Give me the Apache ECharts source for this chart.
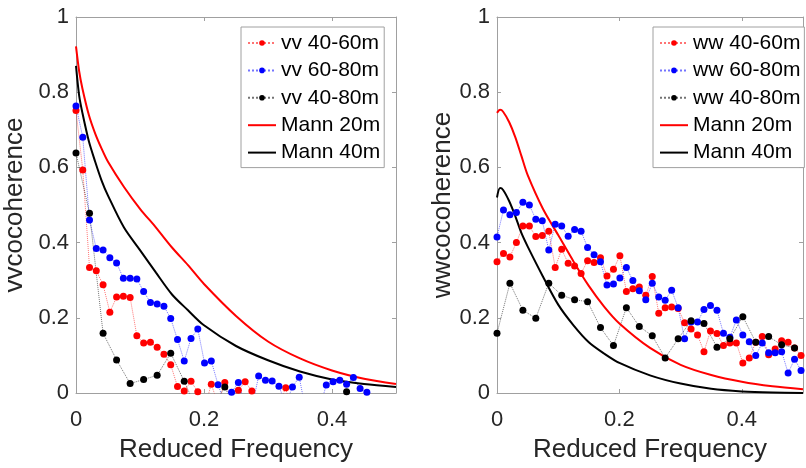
<!DOCTYPE html>
<html><head><meta charset="utf-8">
<script src="https://cdn.jsdelivr.net/npm/echarts@6/dist/echarts.min.js"></script>
<style>html,body{margin:0;padding:0;background:#fff}#c{width:806px;height:468px}</style>
</head><body><div id="c"></div>
<script>
// Reduced frequency of the measured points
const freq = [0,0.0106,0.0211,0.0317,0.0423,0.0529,0.0634,0.0740,0.0846,0.0951,0.1057,0.1163,0.1268,0.1374,0.1480,0.1586,0.1691,0.1797,0.1903,0.2008,0.2114,0.2220,0.2325,0.2431,0.2537,0.2643,0.2748,0.2854,0.2960,0.3065,0.3171,0.3277,0.3382,0.3488,0.3594,0.3700,0.3805,0.3911,0.4017,0.4122,0.4228,0.4334,0.4439,0.4545,0.4651,0.4757,0.4862,0.4968];

// vv co-coherence (left panel)
const vv4060 = [0.751,0.593,0.334,0.325,0.288,0.215,0.255,0.257,0.254,0.152,0.133,0.135,0.122,0.103,0.075,0.017,0.005,0.031,0.003,-0.04,0.023,-0.03,0.028,-0.02,0.007,0.030,0.005,-0.05,-0.08,-0.06,-0.03,0.014,-0.06,-0.09,-0.07,-0.10,-0.08,-0.06,-0.09,-0.07,-0.10,-0.08,-0.06,-0.09,-0.10,-0.08,-0.07,-0.09];
const vv6080 = [0.763,0.680,0.460,0.384,0.380,0.360,0.346,0.305,0.305,0.303,0.270,0.241,0.237,0.231,0.198,0.142,0.085,0.145,0.170,0.080,0.085,0.022,-0.03,0.002,0.028,-0.03,-0.04,0.045,0.034,0.032,0.018,-0.03,0.016,0.042,-0.05,-0.07,-0.04,0.021,0.030,0.034,0.023,0.041,0.012,0.002,-0.05,-0.08,-0.06,-0.09];
const vv4080 = [0.638,null,0.478,null,0.159,null,0.088,null,0.025,null,0.036,null,0.047,null,0.106,null,0.031,null,-0.05,null,-0.04,null,0.016,null,-0.06,null,-0.08,null,-0.05,null,-0.07,null,-0.09,null,-0.06,null,-0.08,null,-0.05,null,0.003,null,-0.07,null,-0.08,null,-0.06,null];

// ww co-coherence (right panel)
const ww4060 = [0.349,0.371,0.362,0.400,0.444,0.444,0.416,0.419,0.430,0.334,0.382,0.345,0.338,0.318,0.352,0.347,0.360,0.311,0.329,0.365,0.270,0.277,0.282,0.260,0.310,0.212,0.227,0.229,0.225,0.187,0.170,0.154,0.110,0.165,0.158,0.126,0.133,0.133,0.080,0.093,0.135,0.150,0.102,0.117,0.139,0.135,0.120,0.100];
const ww6080 = [0.415,0.487,0.474,0.480,0.507,0.500,0.462,0.458,0.380,0.449,0.444,0.417,0.435,0.430,0.387,0.368,0.349,0.287,0.290,0.306,0.334,0.299,0.272,0.248,0.292,0.255,0.247,0.273,0.227,0.144,0.189,0.189,0.222,0.233,0.220,0.159,0.148,0.194,0.154,0.136,0.100,0.133,0.107,0.107,0.110,0.053,0.090,0.060];
const ww4080 = [0.159,null,0.292,null,0.220,null,0.199,null,0.292,null,0.260,null,0.248,null,0.243,null,0.174,null,0.126,null,0.227,null,0.177,null,0.152,null,0.093,null,0.144,null,0.192,null,0.185,null,0.122,null,0.144,null,0.203,null,0.135,null,0.150,null,0.128,null,0.120,null];

// Mann model curves
const mannF    = [0,0.005,0.01,0.02,0.03,0.04,0.05,0.075,0.1,0.125,0.15,0.175,0.2,0.25,0.3,0.35,0.4,0.45,0.5];
const mann20vv = [0.922,0.855,0.81,0.74,0.69,0.65,0.615,0.548,0.49,0.44,0.387,0.34,0.29,0.205,0.137,0.092,0.06,0.038,0.024];
const mann40vv = [0.870,0.79,0.745,0.67,0.615,0.565,0.525,0.44,0.38,0.32,0.262,0.22,0.18,0.125,0.087,0.057,0.036,0.024,0.016];
const mann20ww = [0.745,0.753,0.748,0.72,0.68,0.63,0.58,0.49,0.42,0.35,0.285,0.23,0.185,0.12,0.075,0.048,0.03,0.018,0.01];
const mann40ww = [0.52,0.545,0.54,0.51,0.47,0.425,0.39,0.31,0.235,0.18,0.135,0.105,0.08,0.047,0.025,0.011,0.004,0.001,0.0];

const xTicks = [0, 0.2, 0.4];
const yTicks = [0, 0.2, 0.4, 0.6, 0.8, 1];

const FONT = 'Liberation Sans';
const AX = '#a0a0a0', TXT = '#262626';

function pairs(xs, ys){ const out=[]; ys.forEach((v,i)=>{ if(v!==null) out.push([xs[i], v]); }); return out; }

function xAxis(g, pos, labels){
  return {type:'value', gridIndex:g, position:pos, min:0, max:0.5, interval:0.2,
    axisLine:{show:true, onZero:false, lineStyle:{color:AX, width:1}},
    axisTick:{show:true, inside:true, length:4, lineStyle:{color:AX}},
    axisLabel:{show:labels, color:TXT, fontSize:22, fontFamily:FONT, margin:16,
      formatter:v=>{ const r=Math.round(v*10)/10; return xTicks.indexOf(r)>=0 ? String(r) : ''; }},
    splitLine:{show:false},
    name: labels ? 'Reduced Frequency' : '', nameLocation:'middle', nameGap:44,
    nameTextStyle:{color:TXT, fontSize:26, fontFamily:FONT}};
}
function yAxis(g, pos, labels, name, gap){
  return {type:'value', gridIndex:g, position:pos, min:0, max:1, interval:0.2,
    axisLine:{show:true, onZero:false, lineStyle:{color:AX, width:1}},
    axisTick:{show:true, inside:true, length:4, lineStyle:{color:AX}},
    axisLabel:{show:labels, color:TXT, fontSize:22, fontFamily:FONT, margin:7,
      formatter:v=>{ const r=Math.round(v*10)/10; return yTicks.indexOf(r)>=0 ? String(r) : ''; }},
    splitLine:{show:false},
    name: labels ? name : '', nameLocation:'middle', nameGap:gap,
    nameTextStyle:{color:TXT, fontSize:26, fontFamily:FONT}};
}
function dots(name, color, xi, yi, data){
  return {name, type:'line', xAxisIndex:xi, yAxisIndex:yi, data, clip:true,
    symbol:'circle', symbolSize:7, showSymbol:true, connectNulls:true,
    lineStyle:{color, width:1, type:'dotted', opacity:0.55}, itemStyle:{color, borderWidth:0},
    emphasis:{disabled:true}, silent:true};
}
function mann(name, color, xi, yi, data){
  return {name, type:'line', xAxisIndex:xi, yAxisIndex:yi, data, clip:true, smooth:0.3,
    symbol:'none', showSymbol:false,
    lineStyle:{color, width:2}, itemStyle:{color, borderWidth:0},
    emphasis:{disabled:true}, silent:true};
}
const lineIcon = 'path://M0 0H28V2H0Z';
function legend(left, names){
  return {show:true, orient:'vertical', left, top:27, selectedMode:false,
    backgroundColor:'#fff', borderColor:AX, borderWidth:1, borderRadius:0,
    padding:[5,4,4,6], itemGap:5.4, itemWidth:28, itemHeight:7,
    textStyle:{color:'#000', fontSize:21, fontFamily:FONT, lineHeight:22},
    data:[{name:names[0]},{name:names[1]},{name:names[2]},
          {name:'Mann 20m', icon:lineIcon},{name:'Mann 40m', icon:lineIcon}]};
}

const chart = echarts.init(document.getElementById('c'));
chart.setOption({
  animation:false,
  backgroundColor:'#fff',
  textStyle:{fontFamily:FONT},
  grid:[{left:76, top:17, width:320, height:381},
        {left:497, top:17, width:320, height:381}],
  xAxis:[xAxis(0,'bottom',true), xAxis(0,'top',false), xAxis(1,'bottom',true), xAxis(1,'top',false)],
  yAxis:[yAxis(0,'left',true,'vvcocoherence',48), yAxis(0,'right',false,'',0),
         yAxis(1,'left',true,'wwcocoherence',40), yAxis(1,'right',false,'',0)],
  legend:[legend(241, ['vv 40-60m','vv 60-80m','vv 40-80m']),
          legend(653, ['ww 40-60m','ww 60-80m','ww 40-80m'])],
  series:[
    dots('vv 40-60m','#ff0000',0,0,pairs(freq,vv4060)),
    dots('vv 60-80m','#0000ff',0,0,pairs(freq,vv6080)),
    dots('vv 40-80m','#000000',0,0,pairs(freq,vv4080)),
    mann('Mann 20m','#ff0000',0,0,pairs(mannF,mann20vv)),
    mann('Mann 40m','#000000',0,0,pairs(mannF,mann40vv)),
    dots('ww 40-60m','#ff0000',2,2,pairs(freq,ww4060)),
    dots('ww 60-80m','#0000ff',2,2,pairs(freq,ww6080)),
    dots('ww 40-80m','#000000',2,2,pairs(freq,ww4080)),
    mann('Mann 20m','#ff0000',2,2,pairs(mannF,mann20ww)),
    mann('Mann 40m','#000000',2,2,pairs(mannF,mann40ww))
  ]
});
</script></body></html>
